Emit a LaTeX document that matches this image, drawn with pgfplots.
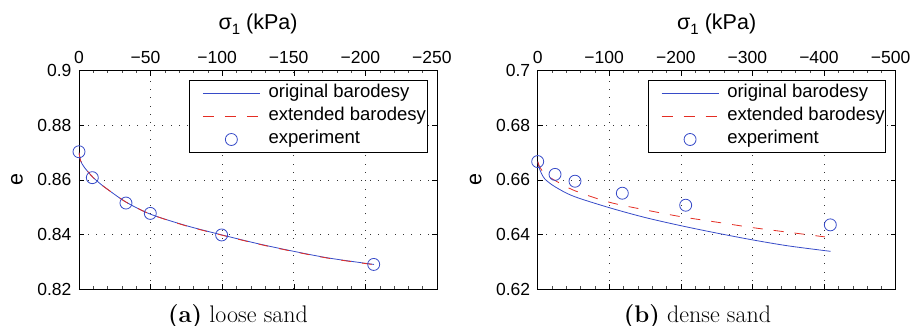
\documentclass[border=0pt]{standalone}
\usepackage{fontspec}
\usepackage{pgfplots}
\pgfplotsset{compat=1.18}
\newfontfamily\af{Liberation Sans}
\definecolor{mblue}{RGB}{55,75,200}
\definecolor{mred}{RGB}{228,45,35}
\pgfplotsset{
  legA/.style={legend image code/.code={%
    \pgfpathrectangle{\pgfpoint{0pt}{-1pt}}{\pgfpoint{78pt}{2pt}}\pgfusepath{}%
    \begin{pgfscope}\pgfsetstrokecolor{mblue}\pgfsetlinewidth{0.8pt}%
    \pgfpathmoveto{\pgfpoint{12.3pt}{0pt}}\pgfpathlineto{\pgfpoint{69.3pt}{0pt}}\pgfusepath{stroke}\end{pgfscope}}},
  legB/.style={legend image code/.code={%
    \pgfpathrectangle{\pgfpoint{0pt}{-1pt}}{\pgfpoint{78pt}{2pt}}\pgfusepath{}%
    \begin{pgfscope}\pgfsetstrokecolor{mred}\pgfsetlinewidth{0.8pt}\pgfsetdash{{11pt}{11pt}}{0pt}%
    \pgfpathmoveto{\pgfpoint{12.3pt}{0pt}}\pgfpathlineto{\pgfpoint{69.3pt}{0pt}}\pgfusepath{stroke}\end{pgfscope}}},
  legC/.style={legend image code/.code={%
    \pgfpathrectangle{\pgfpoint{0pt}{-1pt}}{\pgfpoint{78pt}{2pt}}\pgfusepath{}%
    \begin{pgfscope}\pgfsetstrokecolor{mblue}\pgfsetlinewidth{0.8pt}%
    \pgfpathcircle{\pgfpoint{40.8pt}{0pt}}{6pt}\pgfusepath{stroke}\end{pgfscope}}},
  mystyle/.style={
    scale only axis, width=358pt, height=218.3pt,
    x dir=reverse,
    xticklabel pos=upper,
    ymin=#1-0.08, ymax=#1,
    tick align=inside,
    major tick length=5pt,
    minor tick length=2.5pt,
    minor x tick num=4,
    grid=major,
    grid style={black!80, line width=0.6pt, dash pattern=on 0.8pt off 7.5pt},
    axis line style={line width=0.8pt},
    every tick/.style={black, line width=0.5pt},
    minor tick style={black!70, line width=0.4pt},
    ticklabel style={font=\af\fontsize{17.5}{19}\selectfont},
    xticklabel style={yshift=3pt},
    yticklabel style={xshift=-4pt},
    label style={font=\af\fontsize{21.5}{23}\selectfont},
    xlabel={σ\raisebox{-0.5ex}{\fontsize{15}{16}\selectfont 1} (kPa)},
    xlabel style={yshift=10pt},
    ylabel={e},
    ylabel style={at={(axis description cs:-0.173,0.5)}, anchor=center},
    legend cell align=left,
    legend style={font=\af\fontsize{18.5}{20}\selectfont, draw=black, line width=0.8pt,
      at={(0.973,0.957)}, anchor=north east, inner xsep=1pt, inner ysep=1.5pt, row sep=0pt,
      nodes={inner xsep=0pt, inner ysep=2.5pt, text depth=4.5pt, text height=13.5pt}},
  }
}
\begin{document}
\begin{tikzpicture}
\useasboundingbox (-79pt,-37pt) rectangle (832pt,289pt);
\begin{axis}[mystyle=0.9, at={(0pt,0pt)}, anchor=south west,
  xmin=-250, xmax=0,
  xtick={0,-50,-100,-150,-200,-250},
  xticklabels={0,\llap{−}50,\llap{−}100,\llap{−}150,\llap{−}200,\llap{−}250},
  ytick={0.82,0.84,0.86,0.88,0.9},
  yticklabels={0.82,0.84,0.86,0.88,0.9},
]
\addlegendimage{legA}\addlegendentry{original barodesy}
\addlegendimage{legB}\addlegendentry{extended barodesy}
\addlegendimage{legC}\addlegendentry{experiment}
\addplot[forget plot, draw=mblue, line width=0.8pt, smooth, no marks] coordinates {
(0,0.8700) (-1,0.8672) (-2,0.8660) (-4,0.8644) (-7,0.8625) (-10,0.8608) (-15,0.8585) (-20,0.8565)
(-33,0.8518) (-50,0.8474) (-75,0.8432) (-100,0.8398) (-125,0.8366) (-150,0.8338) (-175,0.8313) (-206,0.8290)};
\addplot[forget plot, draw=mred, line width=0.8pt, dash pattern=on 10pt off 11pt, smooth, no marks] coordinates {
(0,0.8700) (-1,0.8672) (-2,0.8660) (-4,0.8644) (-7,0.8625) (-10,0.8608) (-15,0.8585) (-20,0.8565)
(-33,0.8518) (-50,0.8474) (-75,0.8431) (-100,0.8397) (-125,0.8365) (-150,0.8337) (-175,0.8312) (-206,0.8289)};
\addplot[forget plot, draw=mblue, only marks, mark=o, mark size=6pt, mark options={draw=mblue, line width=0.8pt}] coordinates {
(0,0.8703) (-9.3,0.8608) (-32.8,0.8515) (-49.8,0.8477) (-99.6,0.8398) (-205.8,0.8290)};
\end{axis}
\node[font=\fontsize{24}{26}\selectfont] at (159pt,-28pt) {\textbf{(a)} loose sand};
\begin{axis}[mystyle=0.7, at={(458.7pt,0pt)}, anchor=south west,
  xmin=-500, xmax=0,
  xtick={0,-100,-200,-300,-400,-500},
  xticklabels={0,\llap{−}100,\llap{−}200,\llap{−}300,\llap{−}400,\llap{−}500},
  ytick={0.62,0.64,0.66,0.68,0.7},
  yticklabels={0.62,0.64,0.66,0.68,0.7},
]
\addlegendimage{legA}\addlegendentry{original barodesy}
\addlegendimage{legB}\addlegendentry{extended barodesy}
\addlegendimage{legC}\addlegendentry{experiment}
\addplot[forget plot, draw=mblue, line width=0.8pt, smooth, no marks] coordinates {
(0,0.6667) (-2,0.6645) (-5,0.6625) (-10,0.6603) (-24,0.6575) (-50,0.6540) (-100,0.6498) (-150,0.6462)
(-200,0.6432) (-250,0.6405) (-300,0.6380) (-350,0.6358) (-409,0.6338)};
\addplot[forget plot, draw=mred, line width=0.8pt, dash pattern=on 10pt off 11pt, smooth, no marks] coordinates {
(0,0.6667) (-2,0.6652) (-5,0.6638) (-10,0.6622) (-24,0.6598) (-52,0.6560) (-100,0.6518) (-150,0.6490)
(-200,0.6465) (-250,0.6445) (-300,0.6425) (-350,0.6408) (-401,0.6391)};
\addplot[forget plot, draw=mblue, only marks, mark=o, mark size=6pt, mark options={draw=mblue, line width=0.8pt}] coordinates {
(0,0.6667) (-24.2,0.6620) (-52.1,0.6595) (-118.2,0.6551) (-206.7,0.6507) (-408.7,0.6435)};
\end{axis}
\node[font=\fontsize{24}{26}\selectfont] at (618.5pt,-28pt) {\textbf{(b)} dense sand};
\end{tikzpicture}
\end{document}
